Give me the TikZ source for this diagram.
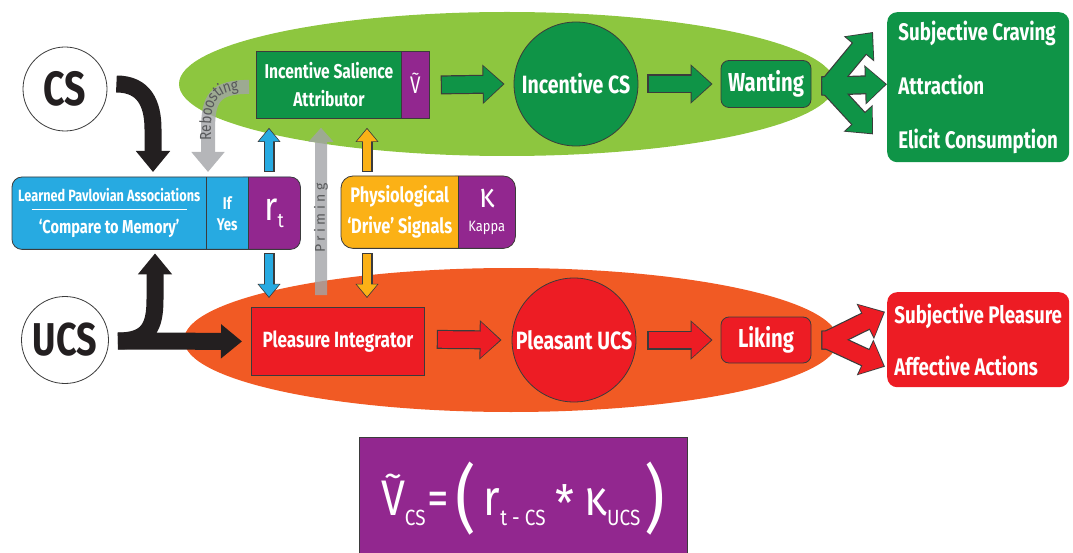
\documentclass[tikz,border=0pt]{standalone}
\usepackage{fontspec}
\usepackage{graphicx}
\setmainfont{Fira Sans}
\newfontfamily\cond[FakeStretch=0.78]{Fira Sans}
\newfontfamily\slim[FakeStretch=0.86]{Fira Sans}
\newfontfamily\spaced[LetterSpace=25]{Fira Sans}
\usetikzlibrary{arrows.meta, calc, backgrounds, decorations.text}

\definecolor{leafgreen}{HTML}{8DC63F}
\definecolor{darkgreen}{HTML}{0F9447}
\definecolor{vpurple}{HTML}{92278F}
\definecolor{skyblue}{HTML}{27AAE1}
\definecolor{amber}{HTML}{FBB116}
\definecolor{flame}{HTML}{F15A24}
\definecolor{scarlet}{HTML}{ED1C24}
\definecolor{ashgray}{HTML}{A2A4A7}
\definecolor{inkblack}{HTML}{231F20}
\definecolor{edgegray}{HTML}{3B3B3B}
\definecolor{textgray}{HTML}{58595B}

\newcommand\fs[2]{\fontsize{#1}{#2}\selectfont}
\newcommand\vtil{\ooalign{V\cr\hidewidth\raisebox{0.55em}{\scalebox{0.85}[0.7]{\char126}}\hidewidth\cr}}
\newcommand\fsub[1]{\raisebox{-10pt}{\fs{22}{22}#1}}

\tikzset{
	part/.style = {rectangle, anchor = north west, inner sep = 0pt, text = white, align = center},
	bubble/.style = {circle, inner sep = 0pt, draw = edgegray, line width = 0.8pt},
	tag/.style = {rectangle, rounded corners = 8pt, minimum width = 90pt, inner sep = 0pt, draw = edgegray, line width = 0.8pt, text = white, font = \cond\bfseries\fs{26}{26}},
	outcome/.style = {rectangle, anchor = north west, rounded corners = 10pt, minimum width = 182pt, inner sep = 0pt, align = left, text = white},
	heavy/.style = {line width = 17pt, draw = inkblack, -{Triangle[width = 33pt, length = 21pt]}},
	ghost/.style = {line width = 14pt, draw = ashgray, -{Triangle[width = 32pt, length = 20pt]}},
	ghostthin/.style = {line width = 12pt, draw = ashgray, -{Triangle[width = 24pt, length = 14pt]}},
	bigrim/.style = {line width = 19pt, draw = edgegray, -{Triangle[width = 38pt, length = 22pt]}},
	bigcore/.style = {line width = 16.6pt, draw = #1, shorten <= 1.2pt, shorten >= 1.5pt, -{Triangle[width = 34.5pt, length = 19.5pt]}},
	smallrim/.style = {line width = 11pt, draw = edgegray, -{Triangle[width = 22pt, length = 14pt]}},
	smallcore/.style = {line width = 8.8pt, draw = #1, shorten <= 1.1pt, shorten >= 1.3pt, -{Triangle[width = 19.4pt, length = 12.2pt]}}
}

\newcommand\fatarrow[3]{\draw[bigrim] #2 -- #3; \draw[bigcore = #1] #2 -- #3;}
\newcommand\thinarrow[3]{\draw[smallrim] #2 -- #3; \draw[smallcore = #1] #2 -- #3;}

\begin{document}
\begin{tikzpicture}[x = 1pt, y = -1pt]

	% Canvas

	\useasboundingbox (0, 0) rectangle (1073, 553);

	% The two ellipses

	\fill[leafgreen] (507, 84) ellipse [x radius = 328, y radius = 72];
	\fill[flame] (511, 340) ellipse [x radius = 327, y radius = 72];

	% Stimuli

	\node[bubble, fill = white, minimum size = 84pt, text = inkblack, font = \cond\bfseries\fs{48}{48}] (cs) at (65, 89) {CS};
	\node[bubble, fill = white, minimum size = 87pt, text = inkblack, font = \cond\bfseries\fs{46}{46}] (ucs) at (65, 340) {UCS};

	% Learned Pavlovian associations

	\node[part, minimum width = 194pt, minimum height = 72pt, font = \cond\bfseries\fs{16.3}{32}] (lpa) at (12, 177)
		{\ooalign{Learned Pavlovian Associations\cr\hidewidth\rule[-8.5pt]{155pt}{0.8pt}\hidewidth\cr}\\{\fs{18.7}{32}‘Compare to Memory’}};
	\node[part, minimum width = 42pt, minimum height = 72pt, font = \cond\bfseries\fs{17}{21}] (ifyes) at (206, 177) {If\\Yes};
	\node[part, minimum width = 52pt, minimum height = 72pt, font = \slim\fs{40}{40}] (rt) at (248, 177) {r\raisebox{-7pt}{\fs{20}{20}t}};

	% Physiological drive

	\node[part, minimum width = 117pt, minimum height = 72pt, font = \cond\bfseries\fs{21}{31}] (phys) at (341, 176) {Physiological\\‘Drive’ Signals};
	\node[part, minimum width = 57pt, minimum height = 72pt, font = \slim\fs{15}{24}] (kap) at (458, 176) {{\fs{34}{24}κ}\\Kappa};

	\begin{scope}[on background layer]
		\fill[skyblue, rounded corners = 10pt] (lpa.north west) rectangle (rt.south east);
		\fill[vpurple, rounded corners = 10pt] ($(rt.north west) + (-15, 0)$) rectangle (rt.south east);
		\fill[skyblue] ($(rt.north west) + (-15, 0)$) rectangle (rt.south west);
		\draw[edgegray, line width = 0.8pt, rounded corners = 10pt] (lpa.north west) rectangle (rt.south east);
		\draw[edgegray, line width = 0.8pt] (ifyes.north west) -- (ifyes.south west) (rt.north west) -- (rt.south west);

		\fill[amber, rounded corners = 12pt] (phys.north west) rectangle (kap.south east);
		\fill[vpurple, rounded corners = 12pt] ($(kap.north west) + (-15, 0)$) rectangle (kap.south east);
		\fill[amber] ($(kap.north west) + (-15, 0)$) rectangle (kap.south west);
		\draw[edgegray, line width = 0.8pt, rounded corners = 12pt] (phys.north west) rectangle (kap.south east);
		\draw[edgegray, line width = 0.8pt] (kap.north west) -- (kap.south west);
	\end{scope}

	% Incentive salience attributor

	\node[part, fill = darkgreen, draw = edgegray, line width = 0.8pt, minimum width = 145pt, minimum height = 67pt, font = \cond\bfseries\fs{20}{28}] (isa) at (256, 51) {Incentive Salience\\Attributor};
	\node[part, fill = vpurple, draw = edgegray, line width = 0.8pt, minimum width = 28pt, minimum height = 67pt, font = \cond\fs{24}{24}] (vt) at (401, 51) {\vtil};

	% Wanting row

	\node[bubble, fill = darkgreen, minimum size = 124pt, text = white, font = \cond\bfseries\fs{25}{25}] (ics) at (576, 84) {Incentive CS};
	\node[tag, fill = darkgreen, minimum height = 47pt] (want) at (766, 84) {Wanting};
	\node[outcome, fill = darkgreen, minimum height = 150pt, font = \cond\bfseries\fs{24}{54}] (crave) at (887, 12)
		{Subjective Craving\\Attraction\\Elicit Consumption};

	% Liking row

	\node[part, fill = scarlet, draw = edgegray, line width = 0.8pt, minimum width = 173pt, minimum height = 68pt, font = \cond\bfseries\fs{22}{22}] (pleas) at (251, 307) {Pleasure Integrator};
	\node[bubble, fill = scarlet, minimum size = 124pt, text = white, font = \cond\bfseries\fs{25}{25}] (pucs) at (574, 340) {Pleasant UCS};
	\node[tag, fill = scarlet, minimum height = 46pt] (like) at (766, 340) {Liking};
	\node[outcome, fill = scarlet, minimum height = 95pt, font = \cond\bfseries\fs{24}{52}] (plsr) at (887, 292)
		{Subjective Pleasure\\Affective Actions};

	% Formula

	\node[fill = vpurple, draw = edgegray, line width = 0.8pt, anchor = north, minimum width = 328pt, minimum height = 122pt, text = white, font = \slim\fs{50}{50}] (formula) at (523, 437)
		{\vtil\fsub{CS}\kern2pt=\kern6pt\raisebox{-9pt}{\fs{74}{74}(}\kern8pt r\fsub{t - CS}\kern10pt\raisebox{-6pt}{*}\kern10pt κ\fsub{UCS}\kern4pt\raisebox{-9pt}{\fs{74}{74})}};

	% Black input arrows

	\draw[heavy] ($(cs.east) + (9, -5)$) .. controls +(28, 0) and +(0, -25) .. ($(lpa.north west) + (141, -48)$) -- ($(lpa.north west) + (141, -5)$);
	\draw[heavy] ($(ucs.east) + (9, 1)$) -- ($(pleas.west) + (-9, 0)$);
	\draw[heavy] ($(ucs.east) + (9, 1)$) .. controls +(30, 0) and +(0, 28) .. ($(lpa.south west) + (143, 50)$) -- ($(lpa.south west) + (143, 4)$);

	% Reboosting and priming

	\coordinate (rb) at ($(isa.west) + (-7, 2)$);

	\begin{scope}[transparency group, opacity = 0.8]
		\draw[ghost] (rb) .. controls +(-34, 0) and +(0, -32) .. ($(lpa.north west) + (196, -47)$) -- ($(lpa.north west) + (196, -5)$);
		\draw[ghostthin] ($(pleas.north west) + (70, -12)$) -- ($(isa.south west) + (65, 9)$);
	\end{scope}

	\path[decorate, decoration = {text along path, text align = center, raise = -3pt,
		text = {|\slim\fs{16}{16}\color{textgray}|Reboosting}}]
		($(lpa.north west) + (196, -26)$) -- ($(lpa.north west) + (196, -47)$) .. controls +(0, -32) and +(-34, 0) .. (rb);
	\node[rotate = 90, inner sep = 0pt, text = textgray, font = \spaced\fs{14}{14}] (prim) at ($(pleas.north west) + (70, -89)$) {Priming};

	% Reward signals up and down

	\thinarrow{skyblue}{($(rt.north west) + (21, -5)$)}{($(isa.south west) + (13, 9)$)}
	\thinarrow{skyblue}{($(rt.south west) + (21, 4)$)}{($(pleas.north west) + (18, -9)$)}
	\thinarrow{amber}{($(phys.north west) + (26, -4)$)}{($(isa.south west) + (111, 9)$)}
	\thinarrow{amber}{($(phys.south west) + (26, 5)$)}{($(pleas.north west) + (116, -9)$)}

	% Block arrows along each row

	\fatarrow{darkgreen}{($(vt.east) + (11, 0)$)}{($(ics.west) + (-9, 0)$)}
	\fatarrow{darkgreen}{($(ics.east) + (9, 0)$)}{($(want.west) + (-8, 0)$)}
	\fatarrow{scarlet}{($(pleas.east) + (12, -2)$)}{($(pucs.west) + (-10, 0)$)}
	\fatarrow{scarlet}{($(pucs.east) + (11, 0)$)}{($(like.west) + (-8, 0)$)}

	% Forks to the outcomes

	\coordinate (wfork) at ($(want.east) + (10, 2)$);
	\coordinate (gf1) at ($(crave.north west) + (-14, 20)$);
	\coordinate (gf2) at ($(crave.west) + (0, -3)$);
	\coordinate (gf3) at ($(crave.south west) + (-14, -28)$);

	\foreach \tip in {gf1, gf2, gf3}
		\draw[bigrim] (wfork) -- ++(7, 0) -- (\tip);
	\foreach \tip in {gf1, gf2, gf3}
		\draw[bigcore = darkgreen] (wfork) -- ++(7, 0) -- (\tip);

	\coordinate (rfork) at ($(like.east) + (10, 0)$);
	\coordinate (rf1) at ($(plsr.west) + (-2, -28)$);
	\coordinate (rf2) at ($(plsr.west) + (-2, 27)$);

	\foreach \tip in {rf1, rf2}
		\draw[bigrim] (rfork) -- ++(6, 0) -- (\tip);
	\foreach \tip in {rf1, rf2}
		\draw[bigcore = scarlet] (rfork) -- ++(6, 0) -- (\tip);

\end{tikzpicture}
\end{document}
